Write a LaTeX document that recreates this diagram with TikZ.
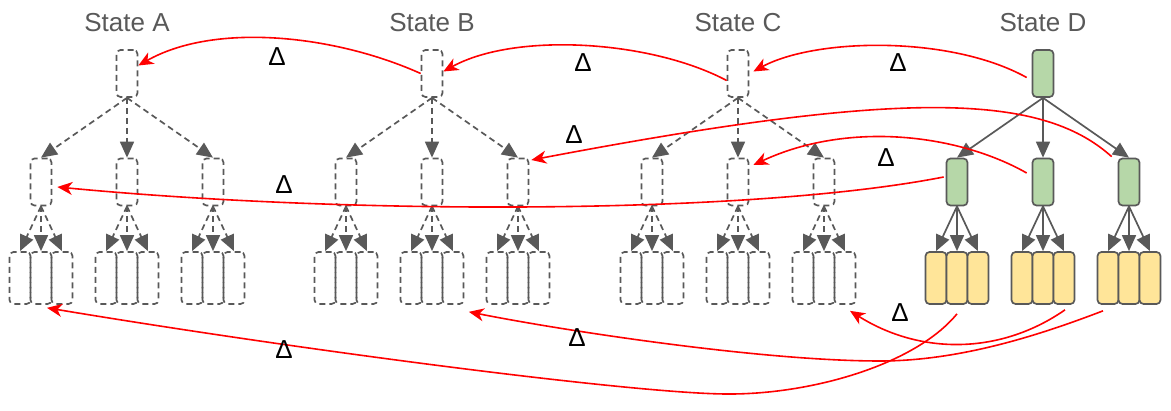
\documentclass[tikz,border=0pt]{standalone}
\usepackage{fontspec}
\setmainfont{Liberation Sans}
\usetikzlibrary{arrows.meta,positioning}
\definecolor{linegray}{HTML}{595959}
\definecolor{boxgreen}{HTML}{B6D7A8}
\definecolor{boxyellow}{HTML}{FFE599}
\definecolor{deltared}{HTML}{FF0000}
\tikzset{
  dbox/.style={draw=linegray,line width=1.7pt,dash pattern=on 6pt off 4pt,
    rounded corners=4pt,minimum width=21pt,minimum height=47pt,inner sep=0pt},
  dleaf/.style={dbox,minimum height=52pt},
  gbox/.style={dbox,solid,fill=boxgreen},
  yleaf/.style={dleaf,solid,fill=boxyellow},
  darr/.style={draw=linegray,line width=1.7pt,dash pattern=on 6pt off 4pt,
    -{Triangle[length=16pt,width=14pt]}},
  garr/.style={darr,solid},
  statelabel/.style={text=linegray,font=\fontsize{26}{30}\selectfont,inner sep=0pt},
  dlabel/.style={font=\fontsize{26}{30}\selectfont,inner sep=0pt},
  delta/.style={draw=deltared,line width=1.6pt,
    -{Stealth[length=15pt,width=13pt,inset=4.5pt]}}
}
\begin{document}
\begin{tikzpicture}[x=1pt,y=-1pt]
\useasboundingbox (0,0) rectangle (1171,411);
% the four trees
\foreach \T/\x/\up/\lo/\ar in {A/127/dbox/dleaf/darr,B/432/dbox/dleaf/darr,
    C/738/dbox/dleaf/darr,D/1043/gbox/yleaf/garr} {
  \node[statelabel] (\T lab) at (\x,23) {State \T};
  \node[\up] (\T r) at (\x,73.5) {};
  \foreach \i/\dx in {1/-86,2/0,3/86} {
    \node[\up] (\T\i) at (\x+\dx,182) {};
    \draw[\ar] (\T r.south) -- (\T\i.north);
    \foreach \j/\ex in {1/-21,2/0,3/21} {
      \node[\lo] (\T\i\j) at (\x+\dx+\ex,278) {};
      \draw[\ar] (\T\i.south) -- (\T\i\j.north);
    }
  }
}
% deltas between the states
\draw[delta] (Br.west) .. controls (335,35) and (215,22) .. ([yshift=8pt]Ar.east);
\draw[delta] ([yshift=-7pt]Cr.west) .. controls (650,40) and (515,32) .. ([yshift=2pt]Br.east);
\draw[delta] ([xshift=-5pt,yshift=-4pt]Dr.west) .. controls (950,35) and (815,38) .. ([xshift=4pt,yshift=2pt]Cr.east);
\draw[delta] ([xshift=-6pt,yshift=1pt]D3.north west) .. controls (1040,92) and (900,90) .. ([xshift=2pt,yshift=22pt]B3.east);
\draw[delta] ([xshift=-5pt,yshift=9pt]D2.west) .. controls (960,135) and (850,120) .. ([xshift=4pt,yshift=17pt]C2.east);
\draw[delta] ([xshift=-2pt,yshift=5pt]D1.west) .. controls (750,215) and (350,215) .. ([xshift=5pt,yshift=-5pt]A1.east);
\draw[delta] ([yshift=-9pt]D12.south) .. controls (915,365) and (810,395) .. (725,394)
  .. controls (630,393) and (300,350) .. ([xshift=6pt,yshift=-3pt]A12.south);
\draw[delta] ([xshift=-5pt,yshift=-6pt]D31.south) .. controls (1040,335) and (960,361) .. (880,361)
  .. controls (760,361) and (560,330) .. ([xshift=4.5pt,yshift=-7pt]B23.south east);
\draw[delta] ([xshift=1pt,yshift=-5pt]D23.south) .. controls (1000,355) and (920,355) .. ([xshift=5pt,yshift=-6pt]C33.south);
% delta labels
\node[dlabel] (d1) at (277,57) {Δ};
\node[dlabel] (d2) at (583,63) {Δ};
\node[dlabel] (d3) at (898,63) {Δ};
\node[dlabel] (d4) at (574,135) {Δ};
\node[dlabel] (d5) at (886,158) {Δ};
\node[dlabel] (d6) at (284,185) {Δ};
\node[dlabel] (d7) at (284,350) {Δ};
\node[dlabel] (d8) at (577,338) {Δ};
\node[dlabel] (d9) at (900,313) {Δ};
\end{tikzpicture}
\end{document}
